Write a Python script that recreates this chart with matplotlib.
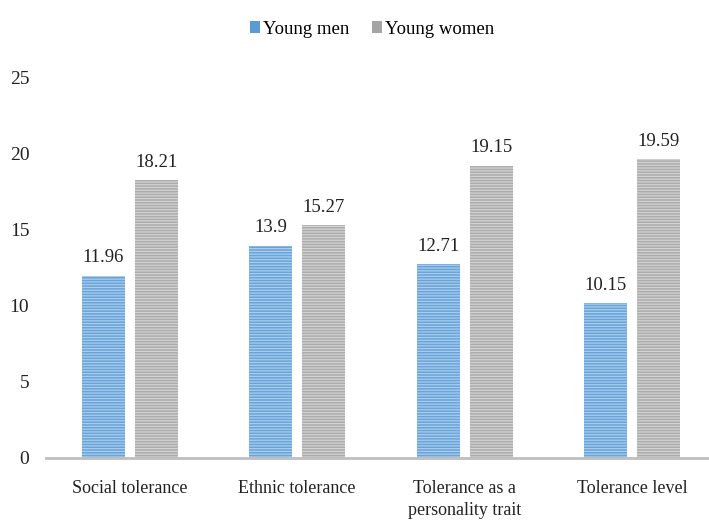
import matplotlib.pyplot as plt
from matplotlib.patches import Patch
import numpy as np

categories = ["Social tolerance", "Ethnic tolerance", "Tolerance as a\npersonality trait", "Tolerance level"]
young_men = [11.96, 13.9, 12.71, 10.15]
young_women = [18.21, 15.27, 19.15, 19.59]

plt.rcParams['font.family'] = ['Liberation Serif', 'DejaVu Serif']
plt.rcParams['hatch.linewidth'] = 0.9

fig = plt.figure(figsize=(7.09, 5.21), dpi=100)
ax = fig.add_axes([46 / 709, 1 - 458 / 521, 670 / 709, 381 / 521])

x = np.arange(len(categories))
w = 0.257
off = 0.158

# striped fills: base colour with lighter horizontal lines
b1 = ax.bar(x - off, young_men, w, color='#6aa3d8', hatch='------', edgecolor='#a9cdee',
            linewidth=0, label='Young men')
b2 = ax.bar(x + off, young_women, w, color='#acacac', hatch='------', edgecolor='#d2d2d2',
            linewidth=0, label='Young women')

for bars, vals in ((b1, young_men), (b2, young_women)):
    for r, v in zip(bars, vals):
        ax.annotate("%g" % v, (r.get_x() + r.get_width() / 2, v), xytext=(0, 7),
                    textcoords='offset points', ha='center', va='bottom', fontsize=13.5, color='#222222')

ax.set_xlim(-0.5, 3.5)
ax.set_ylim(0, 25)
ax.set_yticks(range(0, 26, 5))
ax.set_xticks(x)
ax.set_xticklabels(categories, fontsize=13, color='#222222', linespacing=1.35)
ax.tick_params(axis='y', length=0, pad=12, labelsize=14, labelcolor='#222222')
ax.tick_params(axis='x', length=0, pad=16)

for s in ('top', 'right', 'left'):
    ax.spines[s].set_visible(False)
ax.spines['bottom'].set_color('#bfbfbf')
ax.spines['bottom'].set_linewidth(2)

handles = [Patch(facecolor='#5b9bd5', label='Young men'),
           Patch(facecolor='#a5a5a5', label='Young women')]
fig.legend(handles=handles, loc='center', bbox_to_anchor=(372 / 709, 1 - 29 / 521), ncol=2,
           frameon=False, fontsize=13.5, handlelength=0.55, handleheight=0.6,
           handletextpad=0.15, columnspacing=1.2)

fig.savefig('out.png', dpi=100)
